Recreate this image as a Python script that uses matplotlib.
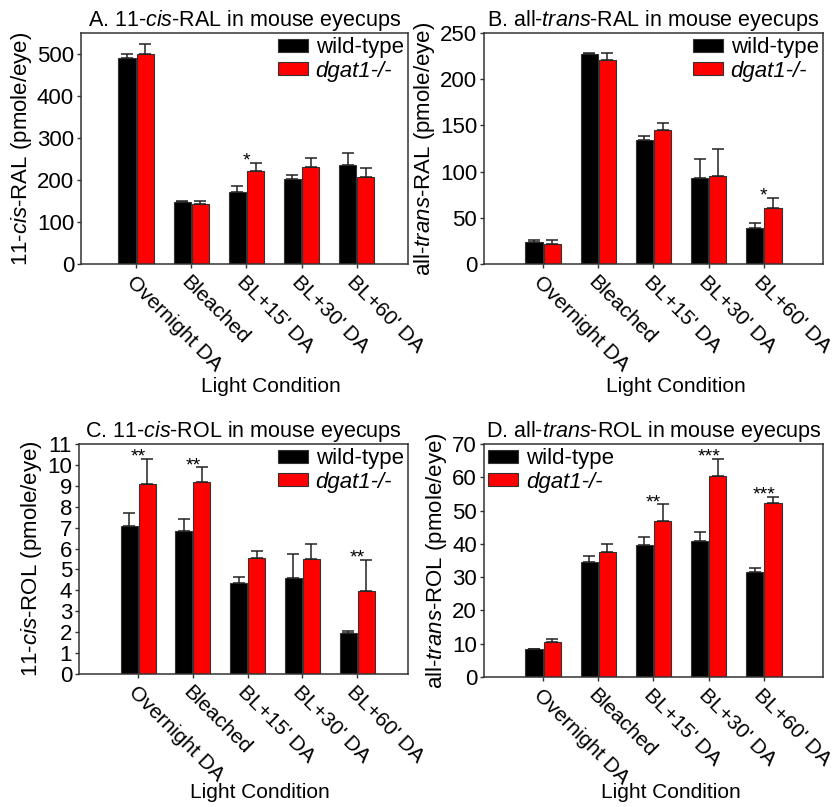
import numpy as np
import matplotlib
matplotlib.use("Agg")
import matplotlib.pyplot as plt

plt.rcParams['font.family'] = ['Liberation Sans', 'DejaVu Sans']
plt.rcParams['mathtext.fontset'] = 'custom'
plt.rcParams['mathtext.rm'] = 'Liberation Sans'
plt.rcParams['mathtext.it'] = 'Liberation Sans:italic'

# data
conditions = ["Overnight DA", "Bleached", "BL+15' DA", "BL+30' DA", "BL+60' DA"]
series_names = ["wild-type", "dgat1-/-"]

# A. 11-cis-RAL
a_wt = [490, 148, 172, 203, 236]
a_wt_err = [10, 3, 13, 10, 29]
a_ko = [499, 143, 222, 231, 207]
a_ko_err = [26, 6, 19, 22, 22]
a_sig = ["", "", "*", "", ""]

# B. all-trans-RAL
b_wt = [23.7, 227.4, 134.7, 93.4, 38.8]
b_wt_err = [2.5, 0.8, 3.9, 20.1, 5.7]
b_ko = [21.5, 221.3, 145.5, 95.2, 60.7]
b_ko_err = [4.4, 7.5, 6.8, 29.1, 10.8]
b_sig = ["", "", "", "", "*"]

# C. 11-cis-ROL
c_wt = [7.10, 6.84, 4.34, 4.58, 1.96]
c_wt_err = [0.62, 0.58, 0.30, 1.16, 0.10]
c_ko = [9.09, 9.17, 5.53, 5.49, 3.97]
c_ko_err = [1.20, 0.72, 0.36, 0.73, 1.48]
c_sig = ["**", "**", "", "", "**"]

# D. all-trans-ROL
d_wt = [8.4, 34.5, 39.6, 40.9, 31.6]
d_wt_err = [0.1, 1.9, 2.6, 2.8, 1.2]
d_ko = [10.55, 37.7, 46.8, 60.3, 52.3]
d_ko_err = [0.9, 2.4, 5.1, 5.2, 1.9]
d_sig = ["", "", "**", "***", "***"]

panels = [
    dict(pos=[0.0972, 0.6729, 0.3926, 0.2862], wt=a_wt, wte=a_wt_err, ko=a_ko, koe=a_ko_err, sig=a_sig,
         title="A. 11-$\\mathit{cis}$-RAL in mouse eyecups", ylabel="11-$\\mathit{cis}$-RAL (pmole/eye)",
         ylim=550, yticks=np.arange(0, 501, 100), xlim=(-1.0, 4.93), leg="upper right", xl=(0.58, -0.49)),
    dict(pos=[0.5810, 0.6729, 0.4070, 0.2862], wt=b_wt, wte=b_wt_err, ko=b_ko, koe=b_ko_err, sig=b_sig,
         title="B. all-$\\mathit{trans}$-RAL in mouse eyecups", ylabel="all-$\\mathit{trans}$-RAL (pmole/eye)",
         ylim=250, yticks=np.arange(0, 251, 50), xlim=(-1.07, 5.07), leg="upper right", xl=(0.566, -0.49)),
    dict(pos=[0.0948, 0.1648, 0.3950, 0.2850], wt=c_wt, wte=c_wt_err, ko=c_ko, koe=c_ko_err, sig=c_sig,
         title="C. 11-$\\mathit{cis}$-ROL in mouse eyecups", ylabel="11-$\\mathit{cis}$-ROL (pmole/eye)",
         ylim=11, yticks=np.arange(0, 12, 1), xlim=(-1.08, 4.93), leg="upper right", xl=(0.55, -0.475)),
    dict(pos=[0.5810, 0.1611, 0.4070, 0.2887], wt=d_wt, wte=d_wt_err, ko=d_ko, koe=d_ko_err, sig=d_sig,
         title="D. all-$\\mathit{trans}$-ROL in mouse eyecups", ylabel="all-$\\mathit{trans}$-ROL (pmole/eye)",
         ylim=70, yticks=np.arange(0, 71, 10), xlim=(-1.07, 5.07), leg="upper left", xl=(0.55, -0.455)),
]

fig = plt.figure(figsize=(8.33, 8.07), dpi=100)
x = np.arange(len(conditions))
w = 0.31
edge = '#333333'

for p in panels:
    ax = fig.add_axes(p['pos'])
    ax.bar(x - w / 2 - 0.01, p['wt'], w, color='black', edgecolor=edge, linewidth=0.8, label=series_names[0])
    ax.bar(x + w / 2 + 0.01, p['ko'], w, color='#ff0000', edgecolor=edge, linewidth=0.8, label=series_names[1])
    ax.errorbar(x - w / 2 - 0.01, p['wt'], yerr=[np.zeros(5), p['wte']], fmt='none', ecolor='#222222',
                elinewidth=1.1, capsize=4, capthick=1.1)
    ax.errorbar(x + w / 2 + 0.01, p['ko'], yerr=[np.zeros(5), p['koe']], fmt='none', ecolor='#222222',
                elinewidth=1.1, capsize=4, capthick=1.1)
    for i, s in enumerate(p['sig']):
        if s:
            top = max(p['wt'][i] + p['wte'][i], p['ko'][i] + p['koe'][i])
            ax.annotate(s, (x[i], top), xytext=(0, -2), textcoords='offset points',
                        ha='center', va='baseline', fontsize=14)
    ax.set_ylim(0, p['ylim'])
    ax.set_xlim(*p['xlim'])
    ax.set_yticks(p['yticks'])
    ax.set_xticks(x)
    ax.set_xticklabels(conditions, rotation=-45, ha='left', va='top', rotation_mode='anchor', fontsize=15)
    ax.tick_params(axis='both', length=3, width=1, color=edge, labelsize=16, pad=2)
    ax.tick_params(axis='x', labelsize=15, pad=3)
    for sp in ax.spines.values():
        sp.set_color(edge)
        sp.set_linewidth(1.1)
    ax.set_title(p['title'], fontsize=15.5, pad=5)
    ax.set_ylabel(p['ylabel'], fontsize=16, labelpad=2)
    ax.set_xlabel("Light Condition", fontsize=15, va='top')
    ax.xaxis.set_label_coords(*p['xl'])
    leg = ax.legend(loc=p['leg'], frameon=False, fontsize=16, handlelength=1.35, handleheight=0.5,
                    handletextpad=0.35, labelspacing=0.1, borderaxespad=0.1, borderpad=0.1)
    leg.get_texts()[1].set_style('italic')

fig.savefig('out.png', dpi=100)
